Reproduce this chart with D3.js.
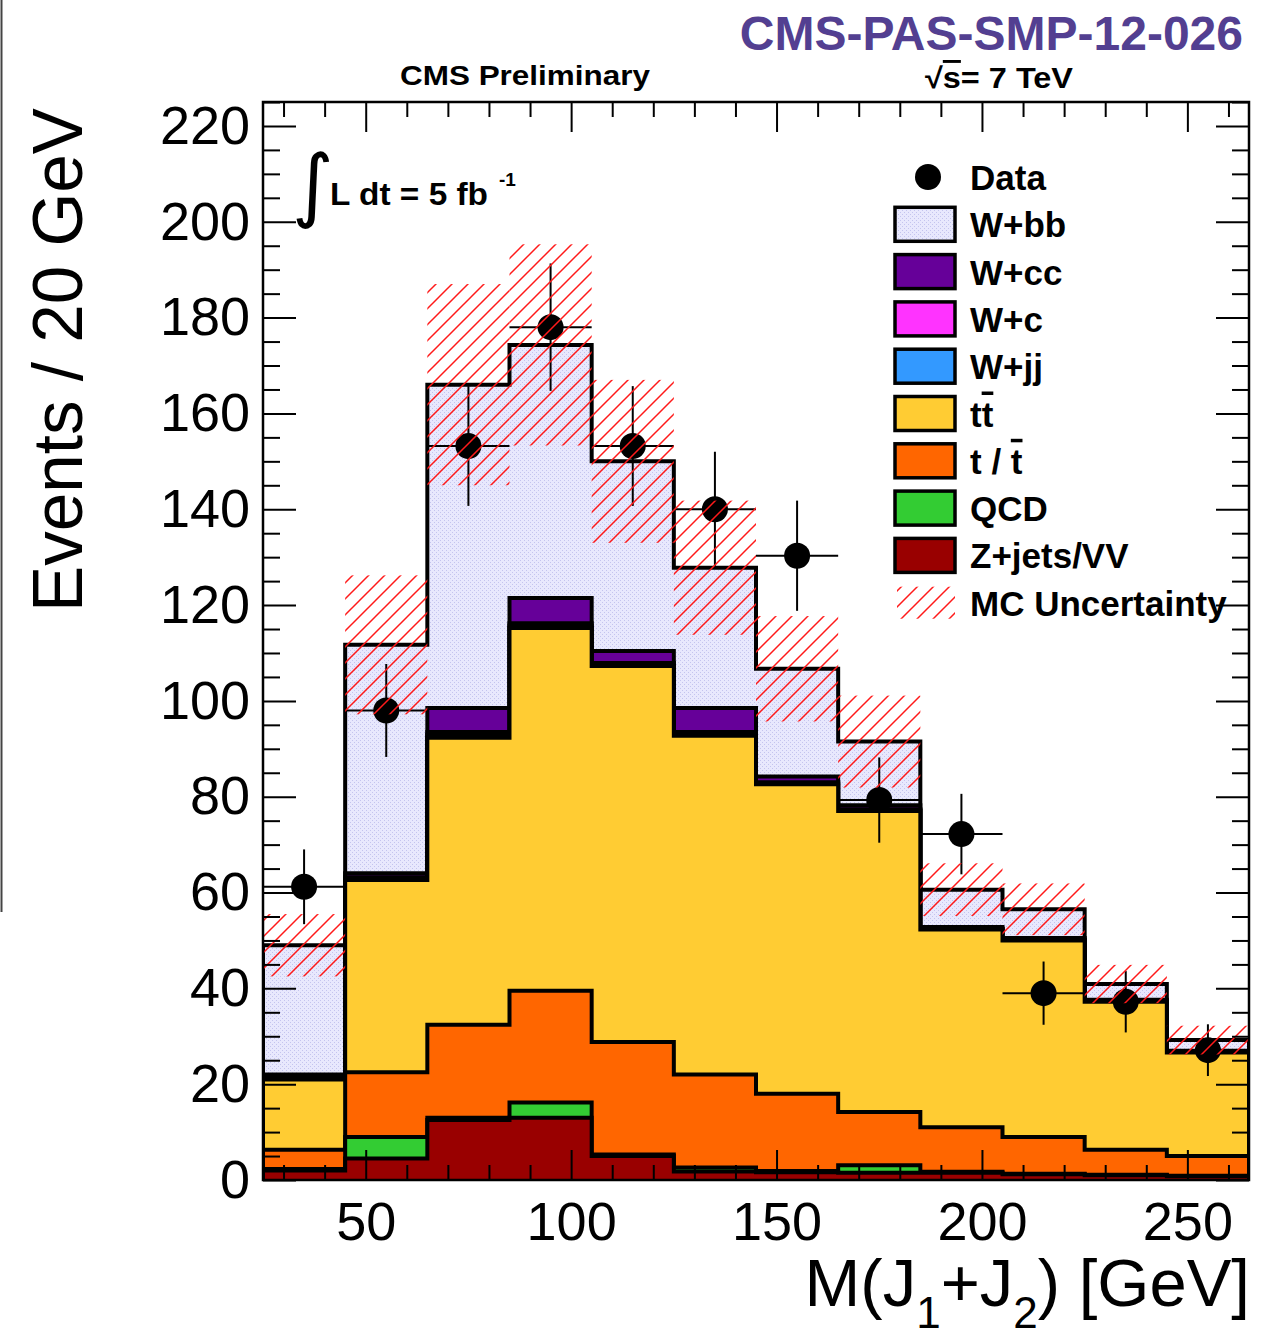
<!DOCTYPE html>
<html lang="en">
<head>
<meta charset="utf-8">
<title>M(J1+J2) stack</title>
<style>
  body { margin: 0; background: #fff; }
  svg { font-family: "Liberation Sans", Arial, Helvetica, sans-serif; }
  .tick text { font-size: 54px; fill: #000; }
  .tick line { stroke: #000; stroke-width: 2px; }
  .domain { display: none; }
  .leg { font-size: 35px; font-weight: bold; }
  .hist-line { fill: none; stroke: #000; stroke-width: 4px; stroke-linejoin: miter; }
</style>
</head>
<body>
<script src="https://d3js.org/d3.v7.min.js"></script>
<script>
// bin edges in GeV
var binEdges = [25, 45, 65, 85, 105, 125, 145, 165, 185, 205, 225, 245, 265];

// stacked MC components, bottom to top
var zjets = [2.0, 4.5, 12.5, 13.0, 5.0, 1.8, 1.6, 1.5, 1.5, 1.2, 1.0, 0.8];
var qcd   = [0.3, 4.5, 0.5, 3.2, 0.3, 0.8, 0.3, 1.6, 0.2, 0.1, 0.1, 0.1];
var stop  = [4.0, 13.5, 19.4, 23.3, 23.5, 19.4, 16.1, 11.1, 9.3, 7.7, 5.2, 4.1];
var ttbar = [14.7, 40.1, 59.9, 75.7, 78.5, 70.7, 64.6, 62.8, 41.3, 41.0, 30.9, 21.6];
var wjj   = [0.2, 0.3, 0.6, 0.5, 0.3, 0.4, 0.2, 0.2, 0.1, 0.1, 0.1, 0.1];
var wc    = [0.2, 0.3, 0.6, 0.5, 0.3, 0.4, 0.2, 0.2, 0.1, 0.1, 0.1, 0.1];
var wcc   = [0.6, 0.8, 5.0, 5.3, 2.5, 5.0, 1.2, 0.8, 0.3, 0.3, 0.2, 0.2];
var wbb   = [27.0, 47.7, 67.5, 52.8, 39.6, 29.3, 22.5, 13.3, 7.8, 6.0, 3.3, 2.2];

// MC uncertainty (half width of hatched band)
var mcErr = [6.5, 14.5, 21, 21, 17, 14, 11, 9.6, 5.5, 5.4, 4, 3];

// data points and their errors
var dataVals = [61.2, 98, 153.2, 178, 153.2, 140, 130.3, 79.3, 72.2, 39, 37.2, 27.1];
var dataErr  = [7.8, 9.7, 12.5, 13.3, 12.5, 12, 11.5, 8.9, 8.4, 6.6, 6.4, 5.4];

var xMajor = [50, 100, 150, 200, 250];
var yMajor = [0, 20, 40, 60, 80, 100, 120, 140, 160, 180, 200, 220];

var keys = ['zjets', 'qcd', 'stop', 'ttbar', 'wjj', 'wc', 'wcc', 'wbb'];
var colors = {
  zjets: '#990000', qcd: '#33cc33', stop: '#ff6600', ttbar: '#ffcc33',
  wjj: '#3399ff', wc: '#ff33ff', wcc: '#660099', wbb: 'url(#wbbfill)'
};
var legendItems = [
  {key: 'wbb', label: 'W+bb'},
  {key: 'wcc', label: 'W+cc'},
  {key: 'wc', label: 'W+c'},
  {key: 'wjj', label: 'W+jj'},
  {key: 'ttbar', label: 'tt', bar: 1},
  {key: 'stop', label: 't / t', bar: 2},
  {key: 'qcd', label: 'QCD'},
  {key: 'zjets', label: 'Z+jets/VV'}
];

var rows = binEdges.slice(0, -1).map(function(lo, i) {
  return {lo: lo, hi: binEdges[i + 1], zjets: zjets[i], qcd: qcd[i], stop: stop[i],
          ttbar: ttbar[i], wjj: wjj[i], wc: wc[i], wcc: wcc[i], wbb: wbb[i]};
});

var svg = d3.select('body').append('svg')
    .attr('width', 1261)
    .attr('height', 1334);

var x = d3.scaleLinear().domain([25, 265]).range([263, 1249]);
var y = d3.scaleLinear().domain([0, 225]).range([1180, 102]);

var defs = svg.append('defs');
var hatch = defs.append('pattern')
    .attr('id', 'hatch')
    .attr('patternUnits', 'userSpaceOnUse')
    .attr('width', 16).attr('height', 16);
hatch.append('path')
    .attr('d', 'M-4,4 L4,-4 M0,16 L16,0 M12,20 L20,12')
    .attr('stroke', '#ff1a1a').attr('stroke-width', 1.5);

var wp = defs.append('pattern')
    .attr('id', 'wbbfill')
    .attr('patternUnits', 'userSpaceOnUse')
    .attr('width', 4).attr('height', 4);
wp.append('rect').attr('width', 4).attr('height', 4).attr('fill', '#e8e8fd');
wp.append('rect').attr('x', 0).attr('y', 0).attr('width', 1).attr('height', 1).attr('fill', '#c4c4ee');
wp.append('rect').attr('x', 2).attr('y', 2).attr('width', 1).attr('height', 1).attr('fill', '#c4c4ee');

defs.append('clipPath').attr('id', 'plotclip')
  .append('rect')
    .attr('x', x(25)).attr('y', y(225))
    .attr('width', x(265) - x(25)).attr('height', y(0) - y(225));

// stray slide border on the far left
svg.append('line')
    .attr('x1', 1.5).attr('x2', 1.5).attr('y1', 0).attr('y2', 912)
    .attr('stroke', '#444').attr('stroke-width', 2);

var plot = svg.append('g').attr('clip-path', 'url(#plotclip)');

var series = d3.stack().keys(keys)(rows);

function steps(s) {
  var pts = [];
  s.forEach(function(d) {
    pts.push({x: d.data.lo, v: d[1]});
    pts.push({x: d.data.hi, v: d[1]});
  });
  return pts;
}

var area = d3.area()
    .x(function(p) { return x(p.x); })
    .y0(y(0))
    .y1(function(p) { return y(p.v); });
var line = d3.line()
    .x(function(p) { return x(p.x); })
    .y(function(p) { return y(p.v); });

// draw from the top of the stack downwards, like THStack
series.slice().reverse().forEach(function(s) {
  var pts = steps(s);
  plot.append('path')
      .attr('d', area(pts))
      .attr('fill', colors[s.key]);
  var outline = [{x: 25, v: 0}].concat(pts, [{x: 265, v: 0}]);
  plot.append('path')
      .attr('class', 'hist-line')
      .attr('d', line(outline));
});

var totals = rows.map(function(r) {
  return keys.reduce(function(a, k) { return a + r[k]; }, 0);
});

// data points
var dg = plot.append('g');
rows.forEach(function(r, i) {
  var cx = x((r.lo + r.hi) / 2);
  dg.append('line')
      .attr('x1', x(r.lo)).attr('x2', x(r.hi))
      .attr('y1', y(dataVals[i])).attr('y2', y(dataVals[i]))
      .attr('stroke', '#000').attr('stroke-width', 2);
  dg.append('line')
      .attr('x1', cx).attr('x2', cx)
      .attr('y1', y(dataVals[i] - dataErr[i])).attr('y2', y(dataVals[i] + dataErr[i]))
      .attr('stroke', '#000').attr('stroke-width', 2);
  dg.append('circle')
      .attr('cx', cx).attr('cy', y(dataVals[i]))
      .attr('r', 13).attr('fill', '#000');
});

// MC uncertainty band
plot.selectAll('rect.unc')
    .data(rows)
  .enter().append('rect')
    .attr('class', 'unc')
    .attr('x', function(d) { return x(d.lo); })
    .attr('width', function(d) { return x(d.hi) - x(d.lo); })
    .attr('y', function(d, i) { return y(totals[i] + mcErr[i]); })
    .attr('height', function(d, i) { return y(totals[i] - mcErr[i]) - y(totals[i] + mcErr[i]); })
    .attr('fill', 'url(#hatch)');

// axes
var xMinor = d3.range(30, 265, 10).filter(function(v) { return v % 50 !== 0; });
var yMinor = d3.range(0, 226, 5).filter(function(v) { return v % 20 !== 0; });

svg.append('g')
    .attr('transform', 'translate(0,' + y(0) + ')')
    .call(d3.axisBottom(x).tickValues(xMajor).tickSize(-30).tickPadding(22).tickFormat(d3.format('d')));
svg.append('g')
    .attr('transform', 'translate(0,' + y(0) + ')')
    .call(d3.axisBottom(x).tickValues(xMinor).tickSize(-15).tickFormat(''));
svg.append('g')
    .attr('transform', 'translate(0,' + y(225) + ')')
    .call(d3.axisTop(x).tickValues(xMajor).tickSize(-30).tickFormat(''));
svg.append('g')
    .attr('transform', 'translate(0,' + y(225) + ')')
    .call(d3.axisTop(x).tickValues(xMinor).tickSize(-15).tickFormat(''));

svg.append('g')
    .attr('transform', 'translate(' + x(25) + ',0)')
    .call(d3.axisLeft(y).tickValues(yMajor).tickSize(-33).tickPadding(13));
svg.append('g')
    .attr('transform', 'translate(' + x(25) + ',0)')
    .call(d3.axisLeft(y).tickValues(yMinor).tickSize(-17).tickFormat(''));
svg.append('g')
    .attr('transform', 'translate(' + x(265) + ',0)')
    .call(d3.axisRight(y).tickValues(yMajor).tickSize(-33).tickFormat(''));
svg.append('g')
    .attr('transform', 'translate(' + x(265) + ',0)')
    .call(d3.axisRight(y).tickValues(yMinor).tickSize(-17).tickFormat(''));

svg.append('rect')
    .attr('x', x(25)).attr('y', y(225))
    .attr('width', x(265) - x(25)).attr('height', y(0) - y(225))
    .attr('fill', 'none').attr('stroke', '#000').attr('stroke-width', 2.5);

// axis titles
svg.append('text')
    .attr('transform', 'translate(82,360) rotate(-90)')
    .attr('text-anchor', 'middle')
    .attr('font-size', 70)
    .attr('textLength', 504)
    .attr('lengthAdjust', 'spacingAndGlyphs')
    .text('Events / 20 GeV');

var xt = svg.append('text')
    .attr('x', 1250).attr('y', 1306)
    .attr('text-anchor', 'end')
    .attr('font-size', 67);
xt.append('tspan').text('M(J');
xt.append('tspan').attr('dy', 22).attr('font-size', 44).text('1');
xt.append('tspan').attr('dy', -22).text('+J');
xt.append('tspan').attr('dy', 22).attr('font-size', 44).text('2');
xt.append('tspan').attr('dy', -22).text(') [GeV]');

// header texts
svg.append('text')
    .attr('x', 1243).attr('y', 50)
    .attr('text-anchor', 'end')
    .attr('font-size', 48).attr('font-weight', 'bold')
    .attr('fill', '#533f91')
    .text('CMS-PAS-SMP-12-026');

svg.append('text')
    .attr('x', 525).attr('y', 85)
    .attr('text-anchor', 'middle')
    .attr('font-size', 28).attr('font-weight', 'bold')
    .attr('textLength', 250).attr('lengthAdjust', 'spacingAndGlyphs')
    .text('CMS Preliminary');

var sq = svg.append('text')
    .attr('x', 925).attr('y', 88)
    .attr('font-size', 29).attr('font-weight', 'bold')
    .attr('textLength', 148).attr('lengthAdjust', 'spacingAndGlyphs');
sq.append('tspan').text('\u221A');
sq.append('tspan').style('text-decoration', 'overline').text('s');
sq.append('tspan').text('= 7 TeV');

// luminosity
svg.append('text')
    .attr('x', 292).attr('y', 212)
    .attr('font-size', 80)
    .attr('font-family', 'DejaVu Sans')
    .text('\u222B');
svg.append('text')
    .attr('x', 330).attr('y', 205)
    .attr('font-size', 31).attr('font-weight', 'bold')
    .attr('textLength', 158).attr('lengthAdjust', 'spacingAndGlyphs')
    .text('L dt = 5 fb');
svg.append('text')
    .attr('x', 499).attr('y', 186)
    .attr('font-size', 19).attr('font-weight', 'bold')
    .text('-1');

// legend
var leg = svg.append('g');
var rowY = function(i) { return 177 + i * 47.3; };
leg.append('circle').attr('cx', 928).attr('cy', rowY(0)).attr('r', 13).attr('fill', '#000');
leg.append('text').attr('class', 'leg').attr('x', 970).attr('y', rowY(0) + 13).text('Data');

legendItems.forEach(function(it, j) {
  var cy = rowY(j + 1);
  leg.append('rect')
      .attr('x', 895).attr('y', cy - 17)
      .attr('width', 60).attr('height', 34)
      .attr('fill', colors[it.key])
      .attr('stroke', '#000').attr('stroke-width', 3.5);
  var t = leg.append('text').attr('class', 'leg').attr('x', 970).attr('y', cy + 13);
  if (it.bar === 1) {
    t.append('tspan').text('t');
    t.append('tspan').style('text-decoration', 'overline').text('t');
  } else if (it.bar === 2) {
    t.append('tspan').text('t / ');
    t.append('tspan').style('text-decoration', 'overline').text('t');
  } else {
    t.text(it.label);
  }
});

var mcY = rowY(9);
leg.append('rect')
    .attr('x', 897).attr('y', mcY - 16)
    .attr('width', 58).attr('height', 32)
    .attr('fill', 'url(#hatch)');
leg.append('text').attr('class', 'leg').attr('x', 970).attr('y', mcY + 13).text('MC Uncertainty');
</script>
</body>
</html>
